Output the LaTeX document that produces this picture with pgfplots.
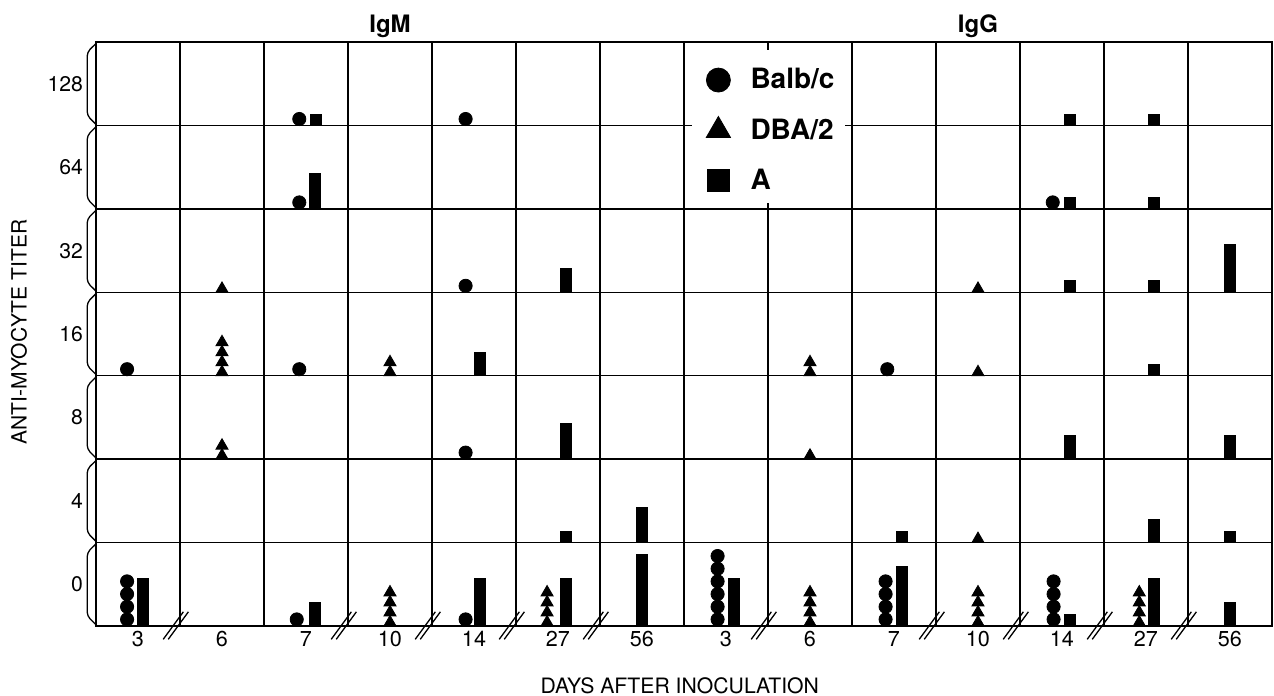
\documentclass[border=0pt]{standalone}
\usepackage{fontspec}
\setmainfont{TeX Gyre Heros}
\usepackage{pgfplots}
\pgfplotsset{compat=1.18}

\begin{document}
\begin{tikzpicture}
\begin{axis}[
    x=42pt, y=41.7pt,
    xmin=0, xmax=14, ymin=0, ymax=7,
    clip=false,
    axis line style={line width=1pt},
    xtick={0.5,1.5,...,13.5},
    xticklabels={3,6,7,10,14,27,56,3,6,7,10,14,27,56},
    ytick={0.5,1.5,...,6.5},
    yticklabels={0,4,8,16,32,64,128},
    minor xtick={1,...,13},
    minor ytick={1,...,6},
    major tick length=0pt, minor tick length=0pt,
    grid=minor,
    minor grid style={black, line width=0.7pt},
    xticklabel style={font=\fontsize{10.8}{12}\selectfont, yshift=1pt},
    yticklabel style={font=\fontsize{10.6}{12}\selectfont, xshift=-3pt},
    /pgf/number format/assume math mode=true,
    xlabel={DAYS AFTER INOCULATION},
    xlabel style={font=\fontsize{10.6}{12}\selectfont, at={(rel axis cs:0.4964,-0.1027)}, anchor=center},
    ylabel={ANTI-MYOCYTE TITER},
    ylabel style={font=\fontsize{10.5}{12}\selectfont, at={(rel axis cs:-0.0655,0.5036)}, anchor=center},
    legend style={at={(axis description cs:0.5186,0.9627)}, anchor=north west,
        draw=none, fill=none, inner sep=0pt, row sep=9.5pt, column sep=8pt,
        font=\bfseries\fontsize{14}{16}\selectfont},
    legend cell align=left,
    legend image code/.code={\draw[#1] plot coordinates {(0pt,0pt)};},
]

% white box behind the legend
\fill[white] (axis cs:7.095,5.072) rectangle (axis cs:8.917,6.906);

% Balb/c
\addplot[only marks, mark=*, mark size=3.3pt, mark options={draw=black, fill=black},
    legend image post style={mark size=6pt}] coordinates {
    (0.37,0.079)(0.37,0.231)(0.37,0.383)(0.37,0.535)
    (0.37,3.079)
    (2.42,6.079)(2.42,5.079)(2.42,3.079)(2.39,0.079)
    (4.4,6.079)(4.4,4.079)(4.4,2.079)(4.4,0.079)
    (7.4,0.079)(7.4,0.231)(7.4,0.383)(7.4,0.535)(7.4,0.687)(7.4,0.839)
    (9.4,0.079)(9.4,0.231)(9.4,0.383)(9.4,0.535)(9.42,3.079)
    (11.4,0.079)(11.4,0.231)(11.4,0.383)(11.4,0.535)(11.39,5.079)
};
\addlegendentry{Balb/c}

% DBA/2
\addplot[only marks, mark=triangle*, mark size=3.5pt, mark options={draw=black, fill=black},
    legend image post style={mark size=7pt}] coordinates {
    (1.5,4.042)
    (1.5,3.042)(1.5,3.162)(1.5,3.282)(1.5,3.402)
    (1.5,2.042)(1.5,2.162)
    (3.5,3.042)(3.5,3.162)
    (3.5,0.042)(3.5,0.162)(3.5,0.282)(3.5,0.402)
    (5.37,0.042)(5.37,0.162)(5.37,0.282)(5.37,0.402)
    (8.5,3.042)(8.5,3.162)(8.5,2.042)
    (8.5,0.042)(8.5,0.162)(8.5,0.282)(8.5,0.402)
    (10.5,4.042)(10.5,3.042)(10.5,1.042)
    (10.5,0.042)(10.5,0.162)(10.5,0.282)(10.5,0.402)
    (12.42,0.042)(12.42,0.162)(12.42,0.282)(12.42,0.402)
};
\addlegendentry{DBA/2}

% A
\addplot[only marks, mark=square*, mark size=2.75pt, mark options={draw=black, fill=black},
    legend image post style={mark size=5.5pt}] coordinates {
    (0.56,0.072)(0.56,0.216)(0.56,0.360)(0.56,0.504)
    (2.62,6.072)
    (2.61,5.072)(2.61,5.216)(2.61,5.360)
    (2.6,0.072)(2.6,0.216)
    (4.57,3.072)(4.57,3.216)
    (4.57,0.072)(4.57,0.216)(4.57,0.360)(4.57,0.504)
    (5.6,4.072)(5.6,4.216)
    (5.6,2.072)(5.6,2.216)(5.6,2.360)
    (5.6,1.072)
    (5.6,0.072)(5.6,0.216)(5.6,0.360)(5.6,0.504)
    (6.5,1.072)(6.5,1.216)(6.5,1.360)
    (6.5,0.072)(6.5,0.216)(6.5,0.360)(6.5,0.504)(6.5,0.648)(6.5,0.792)
    (7.6,0.072)(7.6,0.216)(7.6,0.360)(7.6,0.504)
    (9.6,1.072)
    (9.6,0.072)(9.6,0.216)(9.6,0.360)(9.6,0.504)(9.6,0.648)
    (11.59,6.072)(11.59,5.072)(11.59,4.072)(11.59,2.072)(11.59,2.216)(11.59,0.072)
    (12.6,6.072)(12.6,5.072)(12.6,4.072)(12.6,3.072)(12.6,1.072)(12.6,1.216)
    (12.6,0.072)(12.6,0.216)(12.6,0.360)(12.6,0.504)
    (13.5,4.072)(13.5,4.216)(13.5,4.360)(13.5,4.504)
    (13.5,2.072)(13.5,2.216)
    (13.5,1.072)
    (13.5,0.072)(13.5,0.216)
};
\addlegendentry{A}

% brackets on the titer axis
\pgfplotsinvokeforeach{0,...,6}{
  \draw[line width=0.65pt, rounded corners=2pt]
    (axis cs:0,{#1+0.985}) -- (axis cs:-0.105,{#1+0.88}) -- (axis cs:-0.105,{#1+0.12}) -- (axis cs:0,{#1+0.015});
}
% axis breaks
\pgfplotsinvokeforeach{1,3,4,5,6,8,10,11,12,13}{
  \draw[line width=0.65pt] (axis cs:{#1-0.2},-0.16) -- (axis cs:{#1+0.04},0.17);
  \draw[line width=0.65pt] (axis cs:{#1-0.14},-0.16) -- (axis cs:{#1+0.1},0.17);
}

\node[font=\bfseries\fontsize{12}{14}\selectfont, anchor=base] at (axis cs:3.5,7.122) {IgM};
\node[font=\bfseries\fontsize{12}{14}\selectfont, anchor=base] at (axis cs:10.5,7.122) {IgG};

\coordinate (bbsw) at (axis cs:-1.1429,-0.839);
\coordinate (bbne) at (axis cs:14.024,7.506);
\end{axis}
\pgfresetboundingbox
\path[use as bounding box] (bbsw) rectangle (bbne);
\end{tikzpicture}
\end{document}
